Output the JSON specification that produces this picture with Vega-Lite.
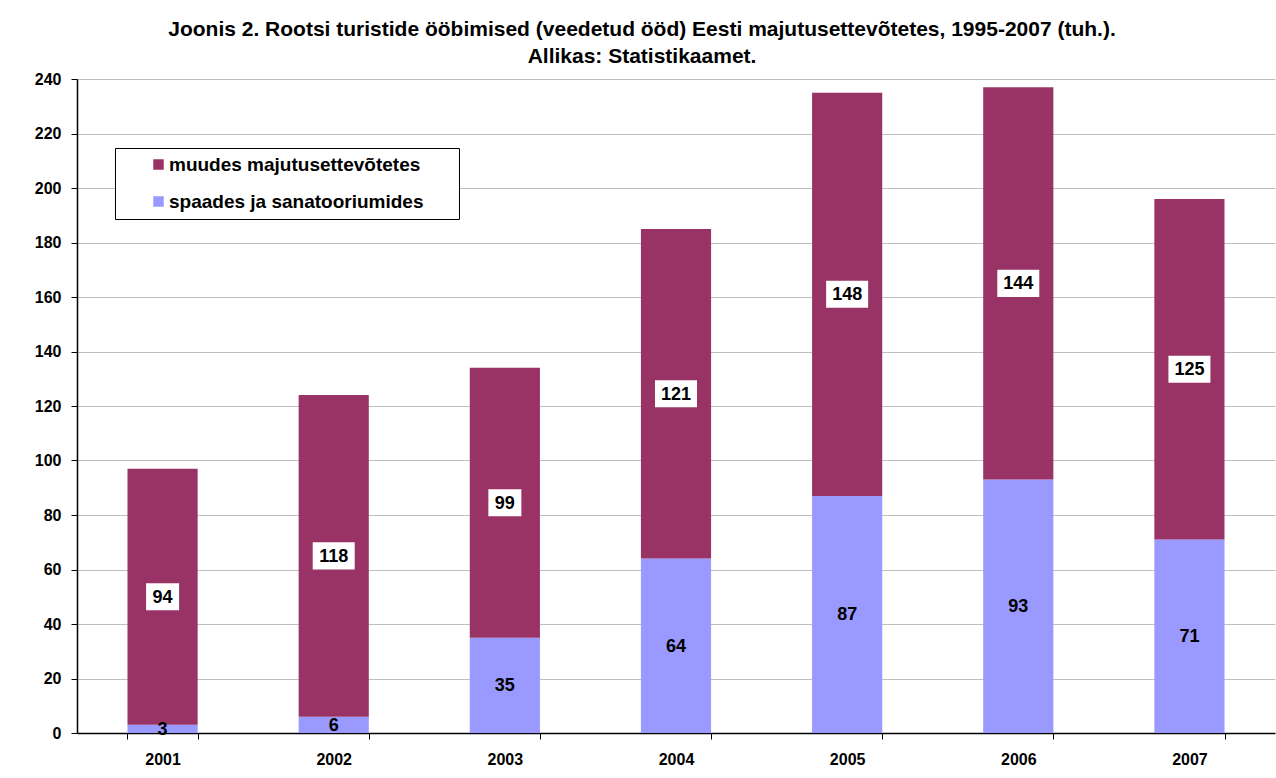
{
  "$schema": "https://vega.github.io/schema/vega-lite/v6.json",
  "width": 1198,
  "height": 654,
  "autosize": {"type": "none"},
  "padding": {"left": 77, "top": 79, "right": 1, "bottom": 45},
  "background": "white",
  "title": {
    "text": ["Joonis 2. Rootsi turistide  ööbimised (veedetud ööd) Eesti majutusettevõtetes, 1995-2007 (tuh.).", "Allikas: Statistikaamet."],
    "font": "Liberation Sans",
    "fontSize": 21,
    "fontWeight": "bold",
    "color": "black",
    "lineHeight": 27,
    "anchor": "middle",
    "frame": "group",
    "dx": -34,
    "offset": 4
  },
  "data": {
    "values": [
      {"year": "2001", "series": "spaades ja sanatooriumides", "value": 3},
      {"year": "2001", "series": "muudes majutusettevõtetes", "value": 94},
      {"year": "2002", "series": "spaades ja sanatooriumides", "value": 6},
      {"year": "2002", "series": "muudes majutusettevõtetes", "value": 118},
      {"year": "2003", "series": "spaades ja sanatooriumides", "value": 35},
      {"year": "2003", "series": "muudes majutusettevõtetes", "value": 99},
      {"year": "2004", "series": "spaades ja sanatooriumides", "value": 64},
      {"year": "2004", "series": "muudes majutusettevõtetes", "value": 121},
      {"year": "2005", "series": "spaades ja sanatooriumides", "value": 87},
      {"year": "2005", "series": "muudes majutusettevõtetes", "value": 148},
      {"year": "2006", "series": "spaades ja sanatooriumides", "value": 93},
      {"year": "2006", "series": "muudes majutusettevõtetes", "value": 144},
      {"year": "2007", "series": "spaades ja sanatooriumides", "value": 71},
      {"year": "2007", "series": "muudes majutusettevõtetes", "value": 125}
    ]
  },
  "transform": [
    {"stack": "value", "groupby": ["year"], "sort": [{"field": "series", "order": "descending"}], "as": ["y0", "y1"]},
    {"calculate": "(datum.y0 + datum.y1) / 2", "as": "mid"}
  ],
  "encoding": {
    "x": {
      "field": "year", "type": "ordinal", "title": null,
      "scale": {"paddingInner": 0.59, "paddingOuter": 0.295},
      "axis": {
        "labelAngle": 0, "tickBand": "extent", "domainColor": "black", "tickColor": "black",
        "tickSize": 6, "labelFont": "Liberation Sans", "labelFontSize": 16, "labelFontWeight": "bold",
        "labelColor": "black", "labelPadding": 12, "grid": false
      }
    }
  },
  "layer": [
    {
      "mark": {"type": "bar", "stroke": null},
      "encoding": {
        "y": {
          "field": "y0", "type": "quantitative", "title": null,
          "scale": {"domain": [0, 240], "nice": false},
          "axis": {
            "values": [0, 20, 40, 60, 80, 100, 120, 140, 160, 180, 200, 220, 240],
            "domainColor": "black", "tickColor": "black", "tickSize": 6,
            "gridColor": "#bfbfbf", "labelFont": "Liberation Sans", "labelFontSize": 16,
            "labelFontWeight": "bold", "labelColor": "black", "labelPadding": 10
          }
        },
        "y2": {"field": "y1"},
        "color": {
          "field": "series", "type": "nominal",
          "scale": {"domain": ["muudes majutusettevõtetes", "spaades ja sanatooriumides"], "range": ["#993366", "#9999FF"]},
          "legend": {
            "title": null, "orient": "none", "legendX": 38, "legendY": 69,
            "symbolType": "square", "symbolSize": 110, "symbolStrokeWidth": 0,
            "labelFont": "Liberation Sans", "labelFontSize": 19, "labelFontWeight": "bold", "labelColor": "black",
            "labelOffset": 1, "rowPadding": 17, "padding": 7, "strokeColor": "black", "fillColor": "white",
            "symbolOffset": 27, "labelLimit": 600,
            "labelExpr": "datum.label + '\u2800\u2800'"
          }
        },
        "order": {"field": "series", "sort": "descending"}
      }
    },
    {
      "transform": [{"filter": "datum.series == 'muudes majutusettevõtetes'"}],
      "mark": {"type": "point", "filled": true, "fill": "white", "opacity": 1, "strokeWidth": 0},
      "encoding": {
        "y": {"field": "mid", "type": "quantitative"},
        "shape": {
          "condition": {"test": "datum.value >= 100", "value": "M-1,-0.643H1V0.643H-1Z"},
          "value": "M-1,-0.82H1V0.82H-1Z"
        },
        "size": {
          "condition": {"test": "datum.value >= 100", "value": 1764},
          "value": 1089
        }
      }
    },
    {
      "mark": {"type": "text", "font": "Liberation Sans", "fontSize": 18, "fontWeight": "bold", "color": "black", "baseline": "middle", "dy": 1},
      "encoding": {
        "y": {"field": "mid", "type": "quantitative"},
        "text": {"field": "value", "type": "quantitative"}
      }
    }
  ],
  "config": {
    "view": {"stroke": null},
    "axis": {"domainWidth": 1.5}
  }
}
